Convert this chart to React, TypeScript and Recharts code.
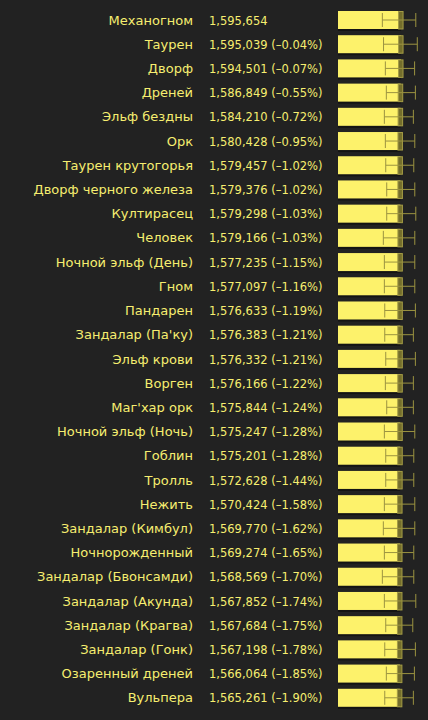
import React from 'react';
import { BarChart, Bar, XAxis, YAxis, ErrorBar } from 'recharts';

const names = ['Механогном','Таурен','Дворф','Дреней','Эльф бездны','Орк','Таурен крутогорья','Дворф черного железа','Култирасец','Человек','Ночной эльф (День)','Гном','Пандарен',"Зандалар (Па'ку)",'Эльф крови','Ворген',"Маг'хар орк",'Ночной эльф (Ночь)','Гоблин','Тролль','Нежить','Зандалар (Кимбул)','Ночнорожденный','Зандалар (Бвонсамди)','Зандалар (Акунда)','Зандалар (Крагва)','Зандалар (Гонк)','Озаренный дреней','Вульпера'];

const dps = [1595654,1595039,1594501,1586849,1584210,1580428,1579457,1579376,1579298,1579166,1577235,1577097,1576633,1576383,1576332,1576166,1575844,1575247,1575201,1572628,1570424,1569770,1569274,1568569,1567852,1567684,1567198,1566064,1565261];

const pct = ['', '–0.04%', '–0.07%', '–0.55%', '–0.72%', '–0.95%', '–1.02%', '–1.02%', '–1.03%', '–1.03%', '–1.15%', '–1.16%', '–1.19%', '–1.21%', '–1.21%', '–1.22%', '–1.24%', '–1.28%', '–1.28%', '–1.44%', '–1.58%', '–1.62%', '–1.65%', '–1.70%', '–1.74%', '–1.75%', '–1.78%', '–1.85%', '–1.90%'];

const mins = [1122000,1152000,1198000,1223000,1173000,1198000,1208000,1233000,1233000,1147000,1173000,1173000,1183000,1183000,1208000,1198000,1233000,1173000,1208000,1208000,1173000,1147000,1173000,1122000,1173000,1208000,1183000,1223000,1183000];

const maxs = [1968000,2006000,1938000,1958000,1907000,1943000,1917000,1943000,1968000,1943000,1943000,1943000,1958000,1907000,1958000,1907000,1907000,1943000,1917000,1917000,1943000,1943000,1917000,1917000,1968000,1892000,1958000,1933000,1907000];

const data = names.map((name, i) => ({
  name,
  dps: dps[i],
  err: [dps[i] - mins[i], maxs[i] - dps[i]],
}));

const TEXT = '#f6ee70';
const FONT = '"DejaVu Sans", Verdana, sans-serif';

const Tick = (props: any) => {
  const { y, payload } = props;
  const i = payload.index;
  const v = dps[i].toLocaleString('en-US');
  const valText = pct[i] ? `${v} (${pct[i]})` : v;
  return (
    <g>
      <text x={193} y={y + 4.5} textAnchor="end" fill={TEXT} fontSize={13} fontFamily={FONT}>
        {payload.value}
      </text>
      <text x={209} y={y + 4.5} textAnchor="start" fill={TEXT} fontSize={11.5} fontFamily={FONT}>
        {valText}
      </text>
    </g>
  );
};

const BarShape = (props: any) => {
  const { x, y, width, height } = props;
  return (
    <g>
      <rect x={x} y={y + 2} width={width} height={height} fill="#141414" />
      <rect x={x} y={y} width={width} height={height} fill="#fdf26b" />
      <rect x={x + width - 2.5} y={y + 0.5} width={4.5} height={height - 0.5} fill="#746e2c" stroke="#a49c45" strokeWidth={1} />
    </g>
  );
};

export default function App() {
  return (
    <div style={{ position: 'absolute', left: 0, top: 0, width: 428, height: 720, background: '#222222' }}>
      <BarChart
        layout="vertical"
        width={428}
        height={720}
        data={data}
        margin={{ top: 8, bottom: 10, left: 0, right: 7 }}
        barCategoryGap={0}
      >
        <XAxis type="number" domain={[0, 2100000]} hide allowDataOverflow />
        <YAxis
          type="category"
          dataKey="name"
          width={338}
          axisLine={false}
          tickLine={false}
          interval={0}
          tick={<Tick />}
        />
        <Bar dataKey="dps" barSize={18} isAnimationActive={false} shape={<BarShape />}>
          <ErrorBar dataKey="err" direction="x" width={7} stroke="#9b9340" strokeWidth={1} isAnimationActive={false} />
        </Bar>
      </BarChart>
    </div>
  );
}
